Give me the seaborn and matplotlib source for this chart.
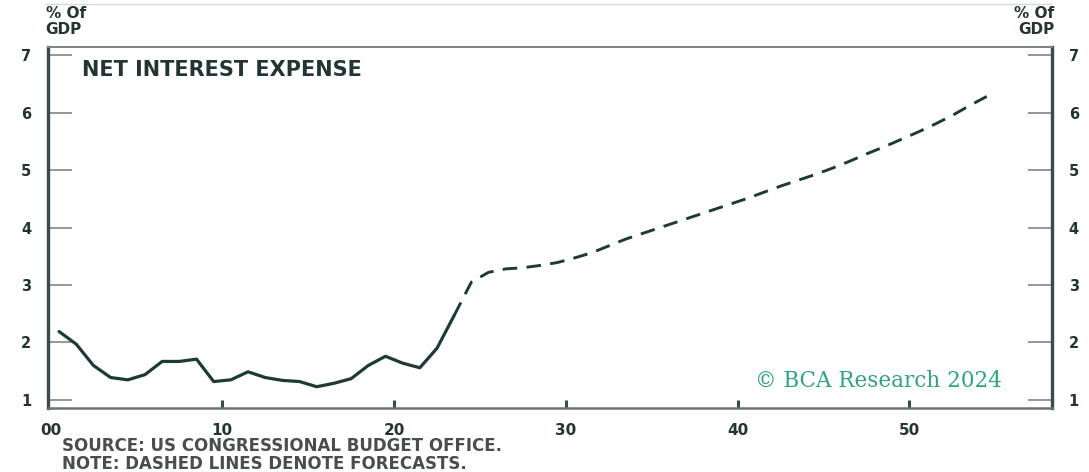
import matplotlib
matplotlib.use('Agg')
import matplotlib.pyplot as plt
from matplotlib.lines import Line2D
import seaborn as sns
import pandas as pd

# net interest expense, % of GDP (x = years since 2000, mid-year)
hist_years = list(range(0, 24))
hist_vals = [2.19, 1.97, 1.60, 1.39, 1.35, 1.44, 1.67, 1.67, 1.71, 1.32,
             1.35, 1.49, 1.39, 1.34, 1.32, 1.23, 1.29, 1.37, 1.60, 1.76,
             1.64, 1.56, 1.90, 2.47]
fcst_years = list(range(24, 55))
fcst_vals = [3.05, 3.22, 3.28, 3.30, 3.34, 3.39, 3.47, 3.56, 3.68, 3.80,
             3.90, 4.00, 4.10, 4.20, 4.30, 4.40, 4.50, 4.61, 4.72, 4.82,
             4.92, 5.03, 5.15, 5.28, 5.40, 5.53, 5.66, 5.80, 5.95, 6.12,
             6.28]

xticks = [0, 10, 20, 30, 40, 50]
xticklabels = ['00', '10', '20', '30', '40', '50']
yticks = [1, 2, 3, 4, 5, 6, 7]

line_col = '#1d3a37'
spine_col = '#3a4c4b'
text_col = '#243432'

sns.set_theme(style='white')
plt.rcParams['font.family'] = ['DejaVu Sans']
plt.rcParams['font.weight'] = 'bold'

hist = pd.DataFrame({'x': [y + 0.5 for y in hist_years], 'v': hist_vals})
# forecast line starts from the last actual point
fcst = pd.DataFrame({'x': [hist_years[-1] + 0.5] + [y + 0.5 for y in fcst_years],
                     'v': [hist_vals[-1]] + fcst_vals})

fig = plt.figure(figsize=(10.89, 4.72), dpi=100)
ax = fig.add_axes([0.044, 0.1356, 0.922, 0.7648])

sns.lineplot(data=hist, x='x', y='v', ax=ax, color=line_col, lw=2.3)
sns.lineplot(data=fcst, x='x', y='v', ax=ax, color=line_col, lw=2.1,
             linestyle=(0, (5, 3.2)))

ax.set_xlim(-0.15, 58.3)
ax.set_ylim(0.86, 7.14)
ax.set_xlabel('')
ax.set_ylabel('')

ax.set_xticks(xticks)
ax.set_xticklabels(xticklabels)
ax.set_yticks(yticks)
ax.tick_params(axis='y', direction='in', length=17, width=1.3, colors='#8a8f8e',
               left=True, right=True, labelleft=True, labelright=True,
               labelsize=10.5, labelcolor=text_col, pad=12)
ax.tick_params(axis='x', direction='in', length=6, width=2.2, colors=spine_col,
               bottom=True, labelsize=11, labelcolor=text_col, pad=11)
ax.xaxis.get_major_ticks()[0].tick1line.set_visible(False)

for s in ['left', 'right']:
    ax.spines[s].set_color(spine_col)
    ax.spines[s].set_linewidth(2.4)
ax.spines['bottom'].set_color('#6f7473')
ax.spines['bottom'].set_linewidth(1.8)
ax.spines['top'].set_color('#7d8281')
ax.spines['top'].set_linewidth(1.4)

ax.text(0.034, 0.965, 'NET INTEREST EXPENSE', transform=ax.transAxes,
        ha='left', va='top', fontsize=15, fontweight='bold', color=text_col)
ax.text(0.95, 0.045, '© BCA Research 2024', transform=ax.transAxes,
        ha='right', va='bottom', fontsize=15.5, family='DejaVu Serif',
        fontweight='normal', color='#2fa37f')

fig.text(0.042, 0.921, '% Of\nGDP', ha='left', va='bottom', fontsize=11,
         fontweight='bold', color=text_col, linespacing=1.1)
fig.text(0.968, 0.921, '% Of\nGDP', ha='right', va='bottom', fontsize=11,
         fontweight='bold', color=text_col, linespacing=1.1)

fig.text(0.057, 0.036, 'SOURCE: US CONGRESSIONAL BUDGET OFFICE.\nNOTE: DASHED LINES DENOTE FORECASTS.',
         ha='left', va='center', fontsize=12, fontweight='bold', color='#4a4d4d',
         linespacing=0.95)

fig.add_artist(Line2D([0.041, 0.965], [0.992, 0.992], transform=fig.transFigure,
                      color='#d6d9d8', lw=1))

fig.savefig('out.png', dpi=100)
